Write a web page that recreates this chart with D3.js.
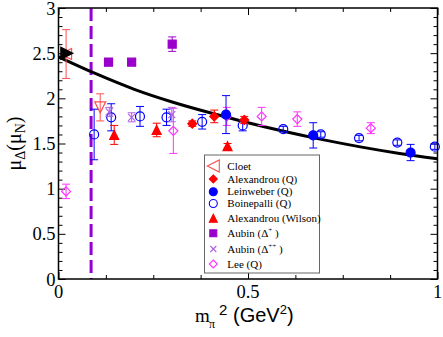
<!DOCTYPE html>
<html><head><meta charset="utf-8">
<script src="https://cdn.jsdelivr.net/npm/d3@7"></script>
<style>body{margin:0;background:#fff}svg{display:block}</style>
</head><body>
<script>
// ---- data ----
const fitM  = [0, 0.1, 0.2, 0.3, 0.4, 0.5, 0.6, 0.7, 0.8, 0.9, 1.0];
const fitMu = [2.46, 2.27, 2.10, 1.96, 1.84, 1.73, 1.63, 1.54, 1.46, 1.39, 1.33];
const physM = 0.086;

const expM = [0.022], expMu = [2.50];

const cloetM = [0.02, 0.11], cloetMu = [2.49, 1.90], cloetErr = [0.27, 0.15];
const cloetShape = ["left", "down"];
const alexQM = [0.353, 0.411, 0.49], alexQMu = [1.72, 1.80, 1.76], alexQErr = [0.03, 0.07, 0.04];
const leinM = [0.442, 0.672, 0.929], leinMu = [1.82, 1.59, 1.40], leinErr = [0.21, 0.14, 0.09];
const boinM = [0.094, 0.139, 0.215, 0.285, 0.379, 0.486, 0.593, 0.692, 0.793, 0.894, 0.993];
const boinMu = [1.60, 1.79, 1.80, 1.79, 1.74, 1.70, 1.66, 1.60, 1.56, 1.51, 1.465];
const boinErr = [0.28, 0.15, 0.11, 0.09, 0.08, 0.06, 0.03, 0.03, 0.03, 0.03, 0.03];
const alexWM = [0.147, 0.259, 0.446], alexWMu = [1.595, 1.65, 1.47], alexWErr = [0.105, 0.075, 0.03];
const aubPM = [0.132, 0.193, 0.30], aubPMu = [2.40, 2.40, 2.60], aubPErr = [0.04, 0.03, 0.08];
const aubPPM = [0.134, 0.193, 0.299], aubPPMu = [1.85, 1.79, 1.82], aubPPErr = [0.05, 0.05, 0.08];
const leeM = [0.02, 0.303, 0.444, 0.536, 0.63, 0.824], leeMu = [0.97, 1.64, 1.80, 1.80, 1.77, 1.67], leeErr = [0.08, 0.25, 0.10, 0.10, 0.08, 0.06];

const xTicks = [0, 0.5, 1], xTickLabels = ["0", "0.5", "1"];
const yTicks = [0, 0.5, 1, 1.5, 2, 2.5, 3], yTickLabels = ["0", "0.5", "1", "1.5", "2", "2.5", "3"];

// ---- chart ----
const W = 443, H = 337;
const L = 58.5, R = 437.5, T = 8, B = 279;
const x = d3.scaleLinear().domain([0, 1]).range([L, R]);
const y = d3.scaleLinear().domain([0, 3]).range([B, T]);
const svg = d3.select("body").append("svg").attr("width", W).attr("height", H);
const SERIF = '"Liberation Serif", "Times New Roman", serif';
const SANS = '"Liberation Sans", Arial, sans-serif';

const RED = "#ff0000", BLUE = "#0000ff", PURP = "#9900cc", PURP2 = "#b060e0", MAG = "#ff33ff", CRED = "#ff5050";

function addAxis(axisGen, tr) {
  const g = svg.append("g").attr("transform", tr).call(axisGen);
  g.select(".domain").remove();
  g.selectAll("line").attr("stroke", "#000").attr("stroke-width", 1);
  g.selectAll("text").remove();
  return g;
}
const xMinor = d3.range(0, 1.0001, 0.125).filter(v => Math.abs(v * 2 - Math.round(v * 2)) > 1e-6);
const yMinor = d3.range(0, 3.0001, 0.1).map(v => +v.toFixed(2)).filter(v => Math.abs(v * 2 - Math.round(v * 2)) > 1e-6);
addAxis(d3.axisBottom(x).tickValues(xTicks).tickSize(-7), `translate(0,${B})`);
addAxis(d3.axisBottom(x).tickValues(xMinor).tickSize(-4), `translate(0,${B})`);
addAxis(d3.axisTop(x).tickValues(xTicks).tickSize(-7), `translate(0,${T})`);
addAxis(d3.axisTop(x).tickValues(xMinor).tickSize(-4), `translate(0,${T})`);
addAxis(d3.axisLeft(y).tickValues(yTicks).tickSize(-7), `translate(${L},0)`);
addAxis(d3.axisLeft(y).tickValues(yMinor).tickSize(-4), `translate(${L},0)`);
addAxis(d3.axisRight(y).tickValues(yTicks).tickSize(-7), `translate(${R},0)`);
addAxis(d3.axisRight(y).tickValues(yMinor).tickSize(-4), `translate(${R},0)`);

// tick labels
svg.append("g").selectAll("text").data(xTicks).join("text")
  .attr("x", d => x(d)).attr("y", B + 19).attr("text-anchor", "middle")
  .style("font-family", SERIF).attr("font-size", 18.5).text((d, i) => xTickLabels[i]);
svg.append("g").selectAll("text").data(yTicks).join("text")
  .attr("x", L - 3).attr("y", d => y(d) + 6.5).attr("text-anchor", "end")
  .style("font-family", SERIF).attr("font-size", 18.5).text((d, i) => yTickLabels[i]);

// physical pion mass dashed line
svg.append("line").attr("x1", x(physM)).attr("x2", x(physM)).attr("y1", y(3)).attr("y2", y(0))
  .attr("stroke", "#9400d3").attr("stroke-width", 3).attr("stroke-dasharray", "13,5");

// fit curve
svg.append("path").datum(fitM.map((m, i) => [m, fitMu[i]]))
  .attr("d", d3.line().x(d => x(d[0])).y(d => y(d[1])).curve(d3.curveMonotoneX))
  .attr("fill", "none").attr("stroke", "#000").attr("stroke-width", 3);

function shapePath(shape, s) {
  switch (shape) {
    case "circle": return d3.symbol(d3.symbolCircle, s * s * Math.PI / 4)();
    case "square": return `M${-s/2},${-s/2}h${s}v${s}h${-s}Z`;
    case "diamond": return `M0,${-s/2}L${s/2},0L0,${s/2}L${-s/2},0Z`;
    case "up": return `M0,${-s/2}L${s/2},${s/2}L${-s/2},${s/2}Z`;
    case "down": return `M0,${s/2}L${s/2},${-s/2}L${-s/2},${-s/2}Z`;
    case "left": return `M${-s/2},0L${s/2},${-s/2}L${s/2},${s/2}Z`;
    case "right": return `M${s/2},0L${-s/2},${-s/2}L${-s/2},${s/2}Z`;
    case "x": return `M${-s/2},${-s/2}L${s/2},${s/2}M${-s/2},${s/2}L${s/2},${-s/2}`;
  }
}
function series(ms, mus, errs, shape, color, filled, size, shapes) {
  const g = svg.append("g");
  const data = ms.map((m, i) => ({ m, mu: mus[i], e: errs ? errs[i] : 0, sh: shapes ? shapes[i] : shape }));
  if (errs) {
    const eg = g.selectAll("g.e").data(data).join("g").attr("stroke", color).attr("stroke-width", 1).attr("fill", "none");
    eg.append("line").attr("x1", d => x(d.m)).attr("x2", d => x(d.m)).attr("y1", d => y(d.mu + d.e)).attr("y2", d => y(d.mu - d.e));
    eg.append("line").attr("x1", d => x(d.m) - 4).attr("x2", d => x(d.m) + 4).attr("y1", d => y(d.mu + d.e)).attr("y2", d => y(d.mu + d.e));
    eg.append("line").attr("x1", d => x(d.m) - 4).attr("x2", d => x(d.m) + 4).attr("y1", d => y(d.mu - d.e)).attr("y2", d => y(d.mu - d.e));
  }
  g.selectAll("path").data(data).join("path")
    .attr("transform", d => `translate(${x(d.m)},${y(d.mu)})`)
    .attr("d", d => shapePath(d.sh, size))
    .attr("fill", filled ? color : "none").attr("stroke", color).attr("stroke-width", 1.2);
}

series(cloetM, cloetMu, cloetErr, "left", CRED, false, 11, cloetShape);
series(boinM, boinMu, boinErr, "circle", BLUE, false, 9);
series(leeM, leeMu, leeErr, "diamond", MAG, false, 9);
series(aubPPM, aubPPMu, aubPPErr, "x", PURP2, false, 7);
series(alexWM, alexWMu, alexWErr, "up", RED, true, 9);
series(alexQM, alexQMu, alexQErr, "diamond", RED, true, 9);
series(aubPM, aubPMu, aubPErr, "square", PURP, true, 8);
series(leinM, leinMu, leinErr, "circle", BLUE, true, 9);
series(expM, expMu, null, "right", "#000", true, 12);

// frame
svg.append("rect").attr("x", L).attr("y", T).attr("width", R - L).attr("height", B - T)
  .attr("fill", "none").attr("stroke", "#000").attr("stroke-width", 1.5);

// legend
const lg = svg.append("g");
lg.append("rect").attr("x", 204.5).attr("y", 155).attr("width", 115).attr("height", 118)
  .attr("fill", "#fff").attr("stroke", "#666").attr("stroke-width", 1);
const legItems = [
  { t: "Cloet", sh: "left", c: CRED, f: false, s: 12, yy: 166 },
  { t: "Alexandrou (Q)", sh: "diamond", c: RED, f: true, s: 8, yy: 179 },
  { t: "Leinweber (Q)", sh: "circle", c: BLUE, f: true, s: 8, yy: 191.7 },
  { t: "Boinepalli (Q)", sh: "circle", c: BLUE, f: false, s: 8, yy: 203.5 },
  { t: "Alexandrou (Wilson)", sh: "up", c: RED, f: true, s: 8, yy: 218.3 },
  { t: "Aubin (Δ", sup: "+", end: " )", sh: "square", c: PURP, f: true, s: 7, yy: 233.3 },
  { t: "Aubin (Δ", sup: "++", end: " )", sh: "x", c: PURP2, f: false, s: 6, yy: 249 },
  { t: "Lee (Q)", sh: "diamond", c: MAG, f: false, s: 8, yy: 264 },
];
legItems.forEach(it => {
  lg.append("path").attr("transform", `translate(213.3,${it.yy})`).attr("d", shapePath(it.sh, it.s))
    .attr("fill", it.f ? it.c : "none").attr("stroke", it.c).attr("stroke-width", 1.1);
  const t = lg.append("text").style("font-family", SERIF).attr("x", 227.3).attr("y", it.yy + 3.5)
    .attr("font-size", 11);
  t.append("tspan").text(it.t);
  if (it.sup) {
    t.append("tspan").attr("font-size", 7).attr("dy", -5).text(it.sup);
    t.append("tspan").attr("dy", 5).text(it.end);
  }
});

// x axis title
svg.append("text").attr("x", 195).attr("y", 322).style("font-family", SERIF).attr("font-size", 19).text("m");
svg.append("text").attr("x", 209).attr("y", 328).style("font-family", SERIF).attr("font-size", 12).text("π");
svg.append("text").attr("x", 219).attr("y", 315).style("font-family", SANS).attr("font-size", 15).text("2");
const xt = svg.append("text").attr("x", 233).attr("y", 322).style("font-family", SANS).attr("font-size", 20);
xt.append("tspan").text("(GeV");
xt.append("tspan").attr("font-size", 13).attr("dy", -8).text("2");
xt.append("tspan").attr("dy", 8).text(")");

// y axis title
const yt = svg.append("text").style("font-family", SERIF)
  .attr("transform", "translate(21,143.5) rotate(-90)").attr("text-anchor", "middle");
yt.append("tspan").attr("font-size", 20).text("μ");
yt.append("tspan").attr("font-size", 14).attr("dy", 4).text("Δ");
yt.append("tspan").attr("font-size", 20).attr("dy", -4).text("(μ");
yt.append("tspan").attr("font-size", 14).attr("dy", 4).text("N");
yt.append("tspan").attr("font-size", 20).attr("dy", -4).text(")");
</script>
</body></html>
